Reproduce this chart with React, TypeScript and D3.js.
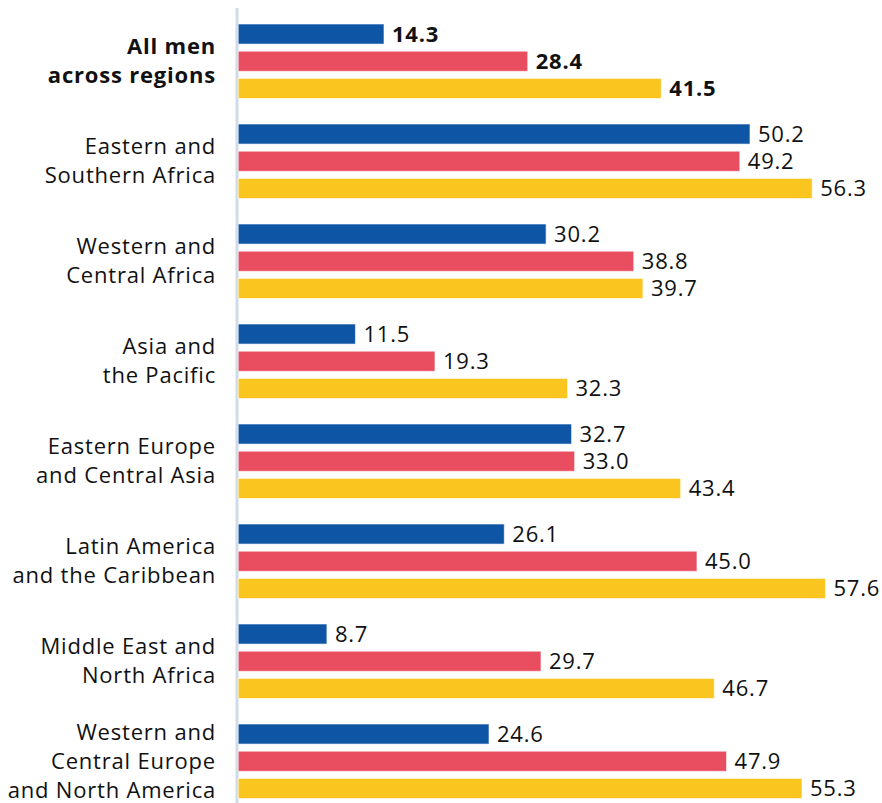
import React from "react";
import * as d3 from "d3";

const regions = [
  ["All men", "across regions"],
  ["Eastern and", "Southern Africa"],
  ["Western and", "Central Africa"],
  ["Asia and", "the Pacific"],
  ["Eastern Europe", "and Central Asia"],
  ["Latin America", "and the Caribbean"],
  ["Middle East and", "North Africa"],
  ["Western and", "Central Europe", "and North America"],
];
const seriesA = [14.3, 50.2, 30.2, 11.5, 32.7, 26.1, 8.7, 24.6];
const seriesB = [28.4, 49.2, 38.8, 19.3, 33.0, 45.0, 29.7, 47.9];
const seriesC = [41.5, 56.3, 39.7, 32.3, 43.4, 57.6, 46.7, 55.3];
const colors = ["#0f55a5", "#e84d60", "#fbc51f"];

const W = 882;
const H = 803;
const FONT = "'Open Sans', sans-serif";

export default function App() {
  const x = d3.scaleLinear().domain([0, 60]).range([238.2, 238.2 + 611.7]);
  const y = d3
    .scaleBand<number>()
    .domain(d3.range(regions.length))
    .range([24, 824])
    .paddingInner(0)
    .paddingOuter(0);
  const inner = d3.scaleBand<number>().domain([0, 1, 2]).range([0, 74.5]).paddingInner(0.262);
  const series = [seriesA, seriesB, seriesC];
  const lineH = 29;

  return (
    <svg
      width={W}
      height={H}
      style={{ position: "absolute", left: 0, top: 0, background: "#fff" }}
      fontFamily={FONT}
    >
      <line x1={237} x2={237} y1={8} y2={H} stroke="#cfdbe8" strokeWidth={3} />
      {regions.map((lines, i) => {
        const g0 = y(i)!;
        const center = g0 + 37;
        const bold = i === 0;
        return (
          <g key={i}>
            <text
              textAnchor="end"
              fontSize={22}
              letterSpacing={0.8}
              fontWeight={bold ? 700 : 400}
              fill="#111"
            >
              {lines.map((l, j) => (
                <tspan
                  key={j}
                  x={216}
                  y={center + (j - (lines.length - 1) / 2) * lineH}
                  dy="0.35em"
                >
                  {l}
                </tspan>
              ))}
            </text>
            {series.map((s, k) => {
              const by = g0 + inner(k)!;
              const bh = inner.bandwidth();
              return (
                <g key={k}>
                  <rect
                    x={x(0)}
                    y={by}
                    width={x(s[i]) - x(0)}
                    height={bh}
                    fill={colors[k]}
                    stroke="#ffffff"
                    strokeOpacity={0.6}
                    strokeWidth={1}
                  />
                  <text
                    x={x(s[i]) + 8}
                    y={by + bh / 2}
                    dy="0.36em"
                    fontSize={22}
                    letterSpacing={0.8}
                    fontWeight={bold ? 700 : 400}
                    fill="#111"
                  >
                    {s[i].toFixed(1)}
                  </text>
                </g>
              );
            })}
          </g>
        );
      })}
    </svg>
  );
}
